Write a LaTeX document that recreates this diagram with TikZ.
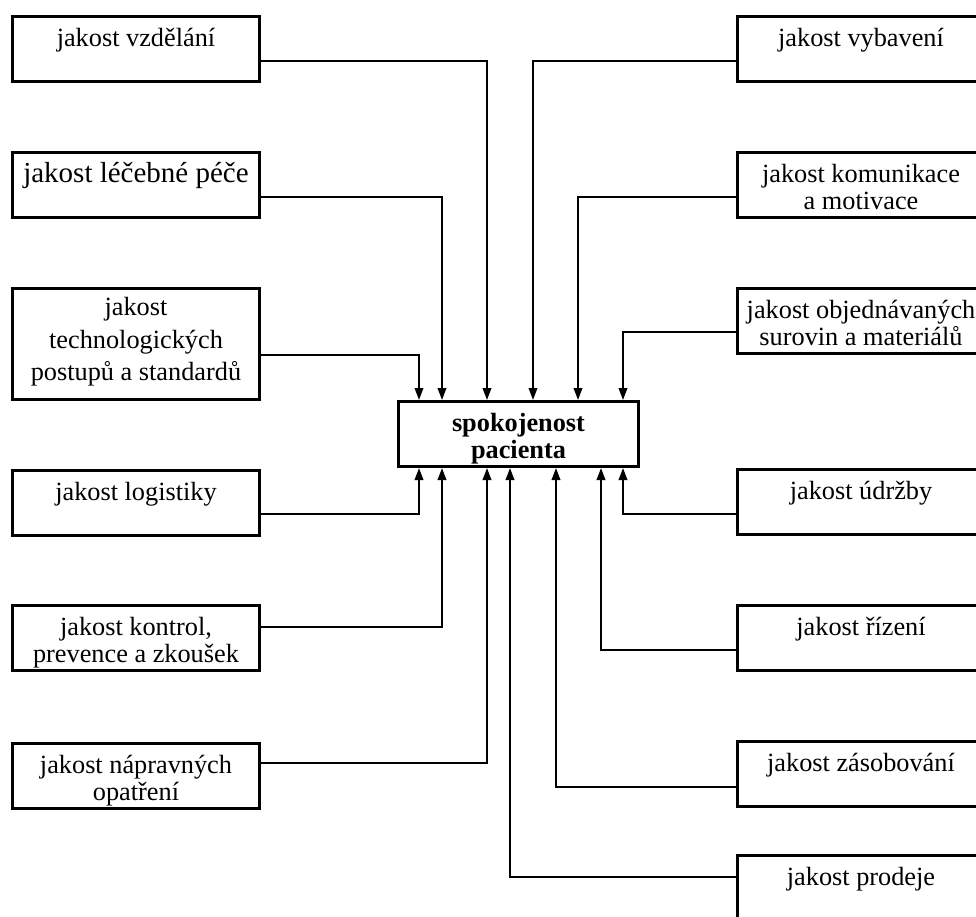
\documentclass[tikz,border=0pt]{standalone}
\usepackage{fontspec}
\setmainfont{Liberation Serif}
\usetikzlibrary{arrows.meta}
\newcommand\bxt[3]{\vbox to #1{\hsize=#2\parindent=0pt\centering\fontsize{26.3}{27}\selectfont\rule{0pt}{22pt}#3\par\vss}}
\newcommand\bxtt[3]{\vbox to #1{\hsize=#2\parindent=0pt\centering\fontsize{26.3}{32.5}\selectfont\rule{0pt}{19pt}#3\par\vss}}
\tikzset{
  qbox/.style={draw, line width=3pt, rectangle, inner xsep=0pt, inner ysep=8pt, anchor=north west},
  conn/.style={line width=2pt, -{Triangle[length=12pt,width=8.5pt]}}
}
\begin{document}
\begin{tikzpicture}[x=1pt,y=-1pt]
\fill[white] (0,0) rectangle (976,917);
\clip (0,0) rectangle (976,917);
% left boxes
\node[qbox] (L1) at (11,15)  {\bxt{49pt}{247pt}{jakost vzdělání}};
\node[qbox] (L2) at (11,151) {\bxt{49pt}{247pt}{\fontsize{29}{30}\selectfont jakost léčebné péče}};
\node[qbox] (L3) at (11,287) {\bxtt{95pt}{247pt}{jakost\\technologických\\postupů a standardů}};
\node[qbox] (L4) at (11,469) {\bxt{49pt}{247pt}{jakost logistiky}};
\node[qbox] (L5) at (11,604) {\bxt{49pt}{247pt}{jakost kontrol,\\prevence a zkoušek}};
\node[qbox] (L6) at (11,742) {\bxt{49pt}{247pt}{jakost nápravných\\opatření}};
% right boxes
\node[qbox] (R1) at (736,15)  {\bxt{49pt}{247pt}{jakost vybavení}};
\node[qbox] (R2) at (736,151) {\bxt{49pt}{247pt}{jakost komunikace\\a motivace}};
\node[qbox] (R3) at (736,287) {\bxt{49pt}{247pt}{jakost objednávaných\\surovin a materiálů}};
\node[qbox] (R4) at (736,468) {\bxt{49pt}{247pt}{jakost údržby}};
\node[qbox] (R5) at (736,604) {\bxt{49pt}{247pt}{jakost řízení}};
\node[qbox] (R6) at (736,740) {\bxt{49pt}{247pt}{jakost zásobování}};
\node[qbox] (R7) at (736,854) {\bxt{49pt}{247pt}{jakost prodeje}};
% centre
\node[qbox] (C) at (397,400) {\bxt{49pt}{240pt}{\bfseries spokojenost\\pacienta}};
% connectors to top
\draw[conn] (L1.east |- 0,61)  -| (487,0 |- C.north);
\draw[conn] (L2.east |- 0,197) -| (442,0 |- C.north);
\draw[conn] (L3.east |- 0,355) -| (419,0 |- C.north);
\draw[conn] (R1.west |- 0,61)  -| (533,0 |- C.north);
\draw[conn] (R2.west |- 0,197) -| (578,0 |- C.north);
\draw[conn] (R3.west |- 0,332) -| (623,0 |- C.north);
% connectors to bottom
\draw[conn] (L4.east |- 0,514) -| (419,0 |- C.south);
\draw[conn] (L5.east |- 0,627) -| (442,0 |- C.south);
\draw[conn] (L6.east |- 0,763) -| (487,0 |- C.south);
\draw[conn] (R7.west |- 0,877) -| (510,0 |- C.south);
\draw[conn] (R6.west |- 0,787) -| (556,0 |- C.south);
\draw[conn] (R5.west |- 0,650) -| (601,0 |- C.south);
\draw[conn] (R4.west |- 0,514) -| (623,0 |- C.south);
\end{tikzpicture}
\end{document}
